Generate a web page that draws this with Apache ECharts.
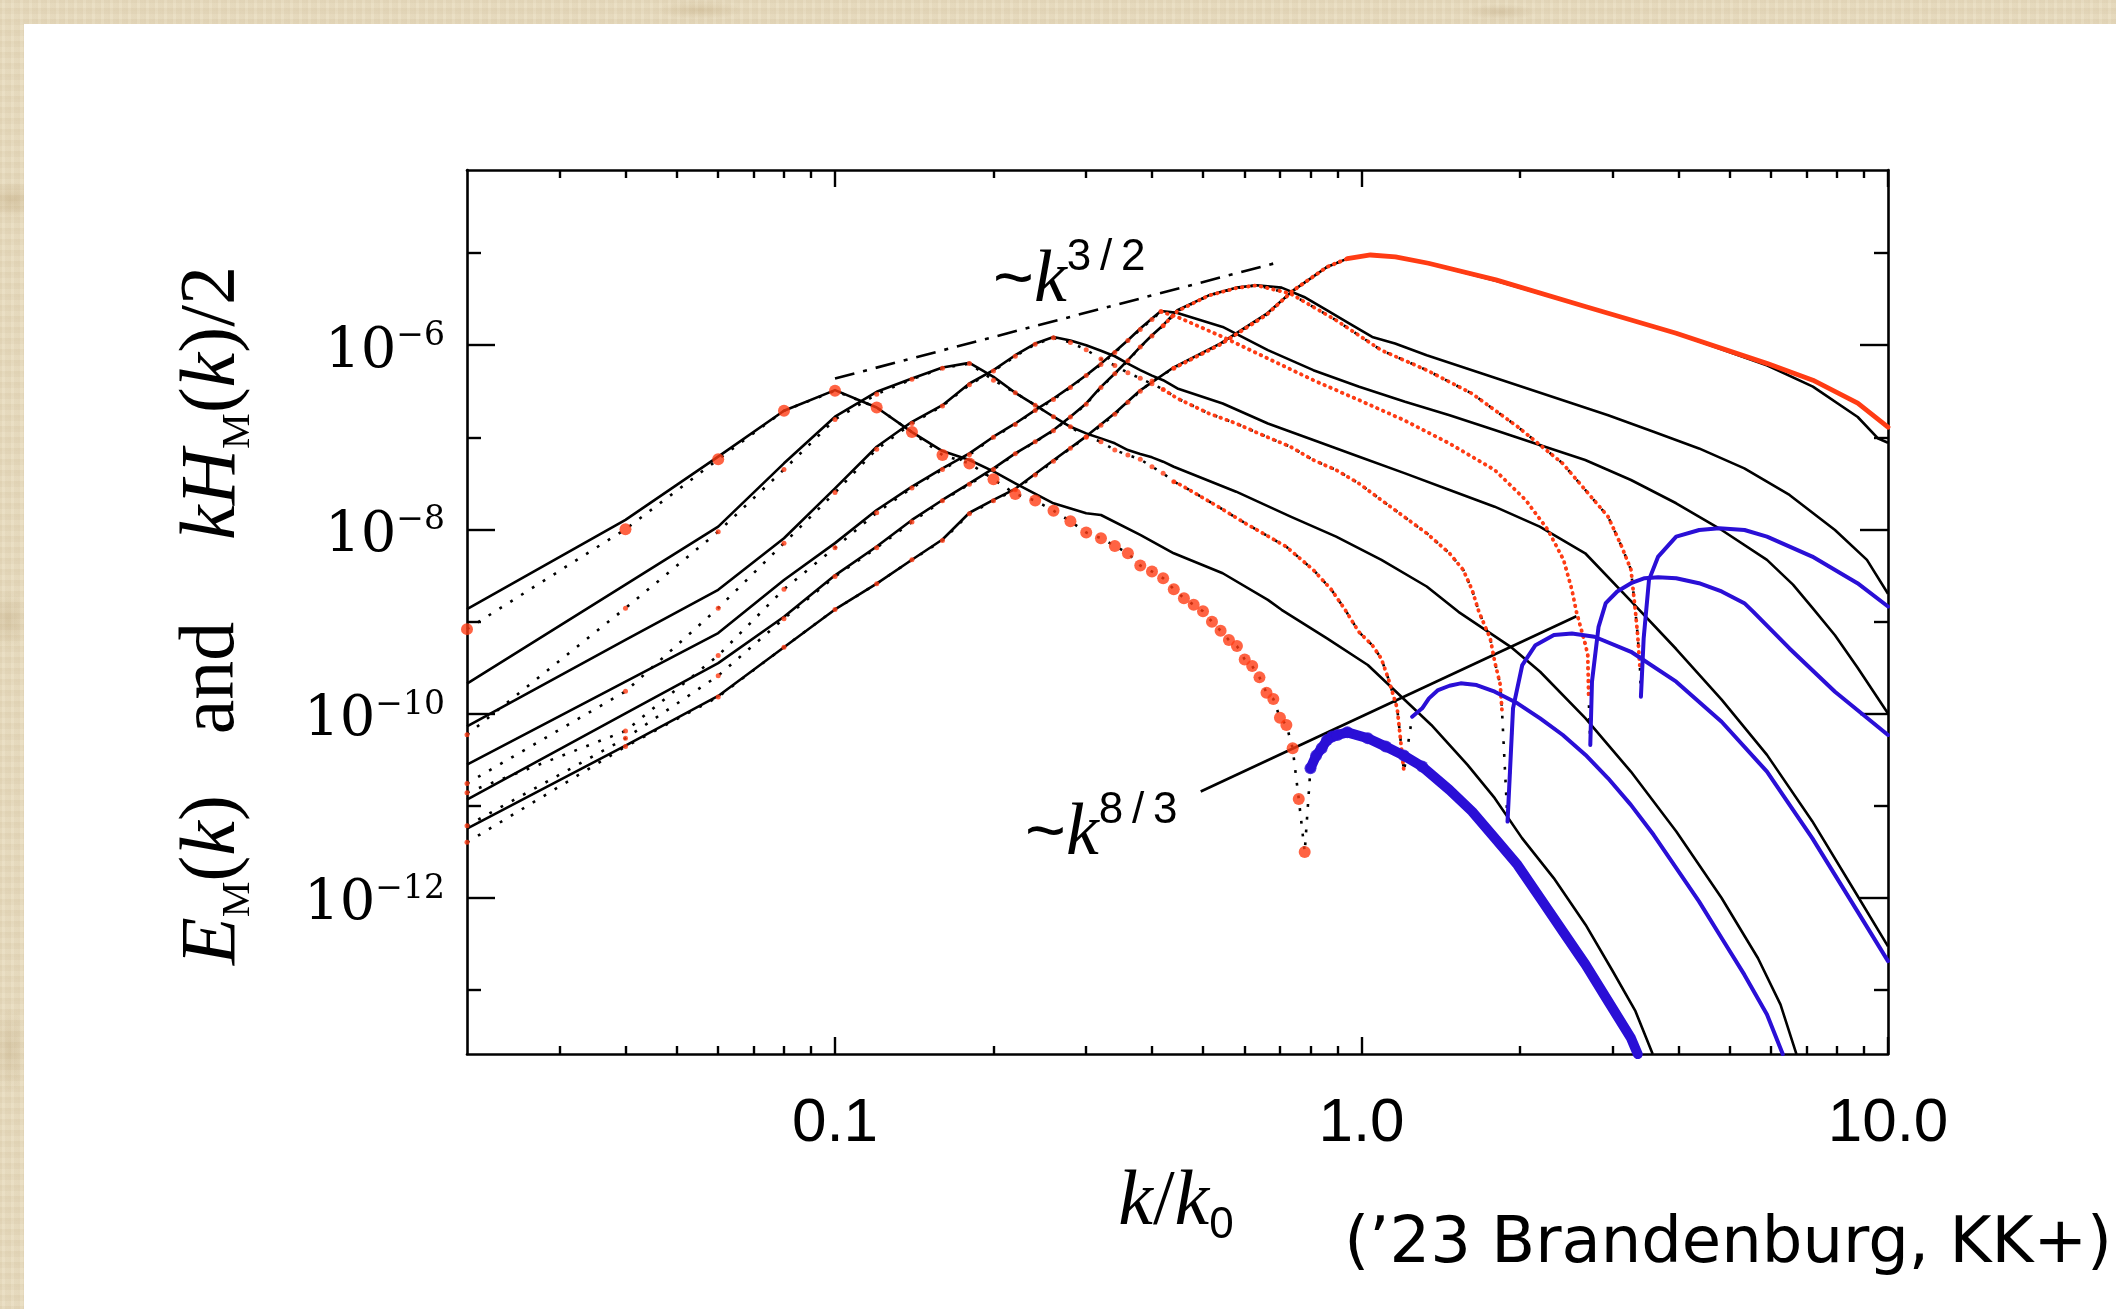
<!DOCTYPE html>
<html>
<head>
<meta charset="utf-8">
<title>Magnetic energy and helicity spectra</title>
<script src="https://cdn.jsdelivr.net/npm/echarts@6/dist/echarts.min.js"></script>
<style>
  html, body { margin: 0; padding: 0; width: 2116px; height: 1309px; overflow: hidden; }
  body {
    position: relative;
    background-color: #e8dcc0;
    background-image:
      radial-gradient(ellipse 40px 26px at 12px 200px, rgba(170,140,90,0.28), rgba(170,140,90,0) 70%),
      radial-gradient(ellipse 30px 40px at 8px 620px, rgba(160,130,80,0.22), rgba(160,130,80,0) 70%),
      radial-gradient(ellipse 24px 60px at 10px 1050px, rgba(160,130,80,0.20), rgba(160,130,80,0) 70%),
      radial-gradient(ellipse 60px 14px at 700px 10px, rgba(170,140,90,0.22), rgba(170,140,90,0) 70%),
      radial-gradient(ellipse 50px 12px at 1500px 12px, rgba(160,130,85,0.20), rgba(160,130,85,0) 70%),
      repeating-linear-gradient(90deg, rgba(150,120,70,0.05) 0 2px, rgba(255,250,235,0.05) 2px 5px, rgba(140,110,60,0.04) 5px 9px),
      repeating-linear-gradient(0deg, rgba(150,120,70,0.05) 0 3px, rgba(255,250,235,0.05) 3px 8px, rgba(130,100,60,0.03) 8px 11px);
  }
  #paper { position: absolute; left: 24px; top: 24px; right: 0; bottom: 0; background: #ffffff; }
  #chart { position: absolute; left: 0; top: 0; width: 2116px; height: 1309px; }
</style>
</head>
<body>
<div id="paper"></div>
<div id="chart"></div>
<script>
// ---- axis ticks -------------------------------------------------------
const xMajorTicks = [0.1, 1, 10];
const xTickLabels = ['0.1', '1.0', '10.0'];
const xMinorTicks = [0.03, 0.04, 0.05, 0.06, 0.07, 0.08, 0.09,
                     0.2, 0.3, 0.4, 0.5, 0.6, 0.7, 0.8, 0.9,
                     2, 3, 4, 5, 6, 7, 8, 9];
const yMajorTicks = [1e-12, 1e-10, 1e-8, 1e-6];
const yMinorTicks = [1e-13, 1e-11, 1e-9, 1e-7, 1e-5];

// ---- spectra: k/k0 and log10 of the spectral value ----------------------
// E_M(k) (solid), and kH_M(k)/2 split into positive (red) and negative (blue) parts,
// for six times of the decay (1 = initial state, 6 = latest).

const kE1 = [0.02,0.04,0.06,0.08,0.10,0.12,0.14,0.16,0.18,0.20,0.22,0.26,0.30,0.34,0.38,0.44,0.54,0.66,0.74,0.86,0.94,1.04,1.16,1.34,1.80,2.66,3.96,5.90,7.20,8.76,9.56,10.0];
const logE1 = [-11.25,-10.35,-9.81,-9.28,-8.87,-8.59,-8.33,-8.11,-7.82,-7.68,-7.56,-7.25,-6.99,-6.74,-6.49,-6.24,-5.98,-5.66,-5.41,-5.15,-5.06,-5.02,-5.04,-5.11,-5.30,-5.58,-5.87,-6.22,-6.45,-6.78,-7.01,-7.06];
const kHp1 = [0.02,0.04,0.06,0.08,0.10,0.12,0.14,0.16,0.18,0.20,0.22,0.24,0.26,0.28,0.30,0.32,0.34,0.36,0.38,0.40,0.44,0.54,0.66,0.74,0.86,0.94,1.04,1.16,1.34,1.80,2.66,3.96,5.90,7.20,8.76,10.0];
const logHp1 = [-11.40,-10.36,-9.82,-9.28,-8.87,-8.59,-8.33,-8.12,-7.83,-7.69,-7.57,-7.41,-7.26,-7.12,-7.00,-6.87,-6.75,-6.62,-6.50,-6.39,-6.25,-5.99,-5.67,-5.41,-5.15,-5.06,-5.02,-5.04,-5.11,-5.29,-5.58,-5.87,-6.20,-6.38,-6.63,-6.89];
const kHn1 = [];
const logHn1 = [];

const kE2 = [0.02,0.04,0.06,0.08,0.10,0.12,0.14,0.16,0.18,0.20,0.22,0.24,0.26,0.28,0.30,0.32,0.34,0.36,0.38,0.40,0.42,0.447,0.513,0.578,0.632,0.705,0.778,0.859,0.949,1.048,1.158,1.33,1.622,1.978,2.412,2.941,3.587,4.375,5.335,6.50,7.93,9.12,10.0];
const logE2 = [-10.935,-10.0,-9.453,-8.95,-8.50,-8.187,-7.898,-7.681,-7.50,-7.338,-7.175,-7.048,-6.922,-6.777,-6.633,-6.452,-6.307,-6.163,-6.018,-5.892,-5.783,-5.62,-5.458,-5.375,-5.349,-5.375,-5.476,-5.62,-5.765,-5.91,-5.982,-6.109,-6.271,-6.434,-6.597,-6.76,-6.94,-7.121,-7.338,-7.627,-8.007,-8.332,-8.70];
const kHp2 = [0.02,0.04,0.06,0.08,0.10,0.12,0.14,0.16,0.18,0.20,0.22,0.24,0.26,0.28,0.30,0.32,0.34,0.36,0.38,0.40,0.42,0.447,0.513,0.578,0.632,0.733,0.895,1.09,1.33,1.62,1.98,2.41,2.94,3.12,3.25,3.314,3.346,3.38];
const logHp2 = [-11.22,-10.27,-9.59,-8.97,-8.513,-8.20,-7.92,-7.69,-7.51,-7.35,-7.18,-7.05,-6.93,-6.78,-6.64,-6.46,-6.31,-6.17,-6.02,-5.90,-5.79,-5.63,-5.46,-5.38,-5.35,-5.44,-5.729,-6.054,-6.271,-6.524,-6.886,-7.284,-7.862,-8.187,-8.44,-8.896,-9.149,-9.51];
const kHn2 = [3.394,3.435,3.516,3.66,3.96,4.38,4.78,5.34,5.89,7.18,8.75,10.0];
const logHn2 = [-9.818,-9.185,-8.549,-8.296,-8.079,-8.007,-7.988,-8.007,-8.079,-8.296,-8.585,-8.838];

const kE3 = [0.02,0.04,0.06,0.08,0.10,0.12,0.14,0.16,0.18,0.20,0.22,0.24,0.26,0.28,0.30,0.32,0.34,0.36,0.38,0.40,0.416,0.447,0.545,0.664,0.81,0.99,1.21,1.47,1.79,2.18,2.66,3.25,3.96,4.83,5.89,6.60,7.18,7.93,8.75,10.0];
const logE3 = [-10.555,-9.655,-9.127,-8.55,-8.15,-7.79,-7.537,-7.338,-7.175,-6.994,-6.85,-6.705,-6.579,-6.452,-6.326,-6.20,-6.072,-5.946,-5.819,-5.711,-5.628,-5.649,-5.801,-6.054,-6.271,-6.452,-6.615,-6.76,-6.922,-7.085,-7.247,-7.464,-7.717,-8.007,-8.332,-8.60,-8.85,-9.15,-9.50,-10.0];
const kHp3 = [0.02,0.04,0.06,0.08,0.10,0.12,0.14,0.16,0.18,0.20,0.22,0.24,0.26,0.28,0.30,0.32,0.34,0.36,0.38,0.40,0.416,0.447,0.545,0.664,0.81,0.99,1.204,1.469,1.791,2.05,2.26,2.42,2.51,2.56,2.664,2.69,2.70];
const logHp3 = [-10.86,-10.19,-9.37,-8.65,-8.20,-7.82,-7.55,-7.35,-7.19,-7.00,-6.86,-6.71,-6.59,-6.46,-6.33,-6.21,-6.08,-5.95,-5.83,-5.72,-5.635,-5.693,-5.91,-6.145,-6.38,-6.597,-6.814,-7.067,-7.356,-7.681,-8.007,-8.332,-8.657,-8.896,-9.258,-9.366,-9.80];
const kHn3 = [2.72,2.74,2.82,2.91,3.06,3.25,3.45,3.66,3.96,4.375,4.83,5.335,5.55,6.5,7.93,10.0];
const logHn3 = [-10.342,-9.655,-9.059,-8.802,-8.675,-8.585,-8.531,-8.52,-8.531,-8.585,-8.675,-8.802,-8.896,-9.294,-9.764,-10.234];

const kE4 = [0.02,0.04,0.06,0.08,0.10,0.12,0.14,0.16,0.18,0.20,0.22,0.24,0.26,0.28,0.30,0.32,0.34,0.36,0.38,0.40,0.42,0.447,0.545,0.664,0.81,0.99,1.21,1.47,1.79,2.18,2.66,3.25,3.96,4.83,5.89,7.18,8.75,10.0];
const logE4 = [-10.14,-9.20,-8.657,-8.097,-7.555,-7.103,-6.832,-6.651,-6.416,-6.271,-6.109,-5.982,-5.91,-5.95,-6.0,-6.06,-6.12,-6.20,-6.27,-6.33,-6.38,-6.47,-6.633,-6.85,-7.03,-7.211,-7.392,-7.573,-7.754,-7.97,-8.26,-8.78,-9.30,-9.85,-10.45,-11.17,-11.98,-12.53];
const kHp4 = [0.02,0.04,0.06,0.08,0.10,0.12,0.14,0.16,0.18,0.20,0.22,0.24,0.26,0.28,0.30,0.32,0.34,0.36,0.38,0.40,0.42,0.447,0.513,0.578,0.638,0.733,0.81,0.895,0.988,1.09,1.204,1.33,1.469,1.56,1.622,1.671,1.756,1.791,1.835,1.849];
const logHp4 = [-10.76,-9.76,-8.856,-8.15,-7.60,-7.13,-6.85,-6.66,-6.43,-6.28,-6.12,-5.99,-5.92,-5.97,-6.05,-6.15,-6.22,-6.30,-6.36,-6.42,-6.48,-6.578,-6.741,-6.85,-6.958,-7.103,-7.247,-7.356,-7.50,-7.681,-7.862,-8.043,-8.26,-8.44,-8.657,-8.896,-9.185,-9.438,-9.691,-9.98];
const kHn4 = [1.894,1.94,2.02,2.14,2.32,2.51,2.77,3.25,3.96,4.83,5.89,7.18,8.75,10.0];
const logHn4 = [-11.174,-9.944,-9.474,-9.258,-9.149,-9.131,-9.167,-9.33,-9.655,-10.09,-10.631,-11.354,-12.15,-12.69];

const kE5 = [0.02,0.04,0.06,0.08,0.10,0.12,0.14,0.16,0.18,0.20,0.22,0.24,0.26,0.28,0.30,0.32,0.34,0.36,0.38,0.40,0.42,0.44,0.578,0.7335,0.895,1.091,1.33,1.528,1.92,2.184,2.664,3.248,3.962,4.83,5.66,6.25,6.70];
const logE5 = [-9.677,-8.60,-7.97,-7.283,-6.777,-6.506,-6.362,-6.242,-6.192,-6.344,-6.517,-6.651,-6.777,-6.886,-6.958,-7.012,-7.066,-7.139,-7.182,-7.218,-7.265,-7.32,-7.591,-7.862,-8.079,-8.332,-8.621,-8.896,-9.276,-9.547,-10.053,-10.631,-11.282,-12.005,-12.656,-13.162,-13.70];
const kHp5 = [0.02,0.04,0.06,0.08,0.10,0.12,0.14,0.16,0.18,0.20,0.22,0.24,0.26,0.28,0.30,0.32,0.34,0.36,0.38,0.40,0.42,0.44,0.454,0.534,0.6015,0.719,0.81,0.877,0.931,0.988,1.048,1.09,1.124,1.169,1.204];
const logHp5 = [-10.23,-8.856,-8.025,-7.35,-6.806,-6.532,-6.37,-6.25,-6.20,-6.38,-6.517,-6.651,-6.777,-6.886,-6.994,-7.048,-7.139,-7.193,-7.24,-7.32,-7.392,-7.482,-7.519,-7.753,-7.934,-8.187,-8.44,-8.657,-8.874,-9.113,-9.258,-9.402,-9.619,-9.944,-10.632];
const kHn5 = [1.248,1.304,1.343,1.398,1.469,1.543,1.654,1.791,1.978,2.184,2.412,2.664,2.94,3.248,3.587,3.962,4.375,4.83,5.335,5.89,6.31];
const logHn5 = [-10.035,-9.944,-9.836,-9.746,-9.699,-9.673,-9.691,-9.764,-9.89,-10.053,-10.234,-10.45,-10.704,-10.993,-11.318,-11.68,-12.041,-12.439,-12.837,-13.27,-13.70];

const kE6 = [0.02,0.04,0.06,0.08,0.10,0.12,0.14,0.16,0.18,0.20,0.22,0.26,0.30,0.32,0.38,0.44,0.545,0.664,0.705,0.86,1.028,1.181,1.357,1.59,1.791,2.018,2.318,2.664,3.001,3.314,3.573];
const logE6 = [-8.867,-7.898,-7.211,-6.712,-6.488,-6.676,-6.944,-7.15,-7.247,-7.37,-7.50,-7.717,-7.826,-7.844,-8.061,-8.26,-8.477,-8.766,-8.874,-9.185,-9.474,-9.80,-10.125,-10.559,-10.92,-11.354,-11.788,-12.294,-12.80,-13.234,-13.70];
const kHp6 = [0.02,0.04,0.06,0.08,0.10,0.12,0.14,0.16,0.18,0.20,0.22,0.24,0.26,0.28,0.30,0.32,0.34,0.36,0.38,0.40,0.42,0.44,0.46,0.48,0.50,0.52,0.54,0.56,0.58,0.60,0.62,0.64,0.66,0.68,0.70,0.72,0.74,0.76,0.78];
const logHp6 = [-9.084,-7.999,-7.24,-6.712,-6.495,-6.676,-6.944,-7.193,-7.284,-7.457,-7.616,-7.688,-7.797,-7.913,-8.035,-8.097,-8.18,-8.26,-8.393,-8.458,-8.531,-8.65,-8.748,-8.82,-8.89,-9.004,-9.102,-9.203,-9.268,-9.413,-9.485,-9.608,-9.775,-9.843,-10.046,-10.125,-10.378,-10.928,-11.506];
const kHn6 = [0.80,0.82,0.84,0.86,0.88,0.90,0.94,1.028,1.112,1.204,1.304,1.469,1.622,1.791,1.978,2.184,2.412,2.664,2.941,3.248,3.347];
const logHn6 = [-10.595,-10.458,-10.378,-10.288,-10.25,-10.234,-10.205,-10.27,-10.36,-10.458,-10.577,-10.83,-11.065,-11.354,-11.644,-12.005,-12.367,-12.728,-13.126,-13.524,-13.70];

// power-law guides
const kSlope32 = [0.1, 0.69];
const logSlope32 = [-6.362, -5.104];
const kSlope83 = [0.495, 2.56];
const logSlope83 = [-10.848, -8.944];

// ---- styling ------------------------------------------------------------
const INK = '#000000';
const RED = '#ff3c14';
const BLUE = '#2a0fd6';
const SERIF = '"Liberation Serif", "DejaVu Serif", serif';
const SANS = '"Liberation Sans", Arial, sans-serif';

const snaps = [
  { kE: kE1, lE: logE1, kP: kHp1, lP: logHp1, kN: kHn1, lN: logHn1 },
  { kE: kE2, lE: logE2, kP: kHp2, lP: logHp2, kN: kHn2, lN: logHn2 },
  { kE: kE3, lE: logE3, kP: kHp3, lP: logHp3, kN: kHn3, lN: logHn3 },
  { kE: kE4, lE: logE4, kP: kHp4, lP: logHp4, kN: kHn4, lN: logHn4 },
  { kE: kE5, lE: logE5, kP: kHp5, lP: logHp5, kN: kHn5, lN: logHn5 },
  { kE: kE6, lE: logE6, kP: kHp6, lP: logHp6, kN: kHn6, lN: logHn6 }
];
// how the helicity symbols of each time are drawn:
// separate dots up to `split`, a dotted red trail beyond, turning solid from `solidFrom`
const looks = [
  { split: 0.44, dot: 5,  dense: true,  denseWidth: 4.0, solidFrom: 0.94, solidWidth: 4.8, negWidth: 4 },
  { split: 0.44, dot: 5,  dense: true,  denseWidth: 3.8, solidFrom: null, negWidth: 4 },
  { split: 0.44, dot: 5,  dense: true,  denseWidth: 3.8, solidFrom: null, negWidth: 4 },
  { split: 0.44, dot: 5,  dense: true,  denseWidth: 3.8, solidFrom: null, negWidth: 4 },
  { split: 0.44, dot: 5,  dense: true,  denseWidth: 3.8, solidFrom: null, negWidth: 4 },
  { split: 1.00, dot: 12, dense: false, negWidth: 10, negDotsUpTo: 1.35 }
];

function pts(ks, ls) { return ks.map((k, i) => [k, Math.pow(10, ls[i])]); }

const lineBase = { type: 'line', xAxisIndex: 0, yAxisIndex: 0, symbol: 'none', showSymbol: false,
                   smooth: false, silent: true, animation: false, clip: true };
const dotBase = { type: 'scatter', xAxisIndex: 0, yAxisIndex: 0, symbol: 'circle',
                  silent: true, animation: false, clip: true };

const series = [];
series.push(Object.assign({}, lineBase, { name: 'k^3/2', data: pts(kSlope32, logSlope32), z: 2,
  lineStyle: { color: INK, width: 2.6, type: [20, 9, 4, 9] } }));
series.push(Object.assign({}, lineBase, { name: 'k^8/3', data: pts(kSlope83, logSlope83), z: 2,
  lineStyle: { color: INK, width: 2.6 } }));

snaps.forEach(s => {
  series.push(Object.assign({}, lineBase, { data: pts(s.kE, s.lE), z: 3,
    lineStyle: { color: INK, width: 2.6, join: 'round' } }));
});
snaps.forEach(s => {
  series.push(Object.assign({}, lineBase, { data: pts(s.kP.concat(s.kN), s.lP.concat(s.lN)), z: 4,
    lineStyle: { color: INK, width: 2.6, type: [2.8, 10] } }));
});
snaps.forEach((s, i) => {
  const st = looks[i];
  const pos = pts(s.kP, s.lP);
  const neg = pts(s.kN, s.lN);
  const low = pos.filter(p => p[0] <= st.split + 1e-9);
  series.push(Object.assign({}, dotBase, { data: low, symbolSize: st.dot, z: 6,
    itemStyle: { color: RED } }));
  if (st.dense) {
    const rest = pos.slice(Math.max(0, low.length - 1));
    let dotted = rest, solid = [];
    if (st.solidFrom) {
      const n = rest.filter(p => p[0] < st.solidFrom - 1e-9).length;
      dotted = rest.slice(0, n + 1);
      solid = rest.slice(n);
    }
    series.push(Object.assign({}, lineBase, { data: dotted, z: 5,
      lineStyle: { color: RED, width: st.denseWidth, cap: 'round', join: 'round', type: [0.6, 5.8] } }));
    if (solid.length) {
      series.push(Object.assign({}, lineBase, { data: solid, z: 5,
        lineStyle: { color: RED, width: st.solidWidth, cap: 'round', join: 'round' } }));
    }
  }
  if (neg.length) {
    series.push(Object.assign({}, lineBase, { data: neg, z: 5,
      lineStyle: { color: BLUE, width: st.negWidth, cap: 'round', join: 'round' } }));
    if (st.negDotsUpTo) {
      series.push(Object.assign({}, dotBase, { data: neg.filter(p => p[0] <= st.negDotsUpTo),
        symbolSize: st.dot, z: 6, itemStyle: { color: BLUE } }));
    }
  }
});

// ---- axes -----------------------------------------------------------------
const X_MIN = 0.02, X_MAX = 10, Y_MIN = 2e-14, Y_MAX = 8e-5;
const gridRect = { left: 467, top: 170, width: 1421, height: 884, containLabel: false, show: false };
function logAxis(extra) {
  return Object.assign({
    type: 'log', logBase: 10,
    splitLine: { show: false }, minorTick: { show: false }, minorSplitLine: { show: false },
    axisPointer: { show: false }, silent: true
  }, extra);
}
const frameLine = { show: true, onZero: false, lineStyle: { color: INK, width: 2.6 } };
const noLine = { show: false };
const noLabel = { show: false };
function ticks(values, len) {
  return { show: true, inside: true, length: len, customValues: values,
           lineStyle: { color: INK, width: 2.4 } };
}

const xAxis = [
  logAxis({ gridIndex: 0, min: X_MIN, max: X_MAX, position: 'bottom', axisLine: frameLine,
    axisTick: ticks(xMajorTicks, 17),
    axisLabel: { show: true, customValues: xMajorTicks, margin: 39, color: INK,
      fontFamily: SANS, fontSize: 62,
      formatter: v => {
        const i = xMajorTicks.findIndex(t => Math.abs(Math.log10(t) - Math.log10(v)) < 1e-6);
        return i >= 0 ? xTickLabels[i] : '';
      } } }),
  logAxis({ gridIndex: 0, min: X_MIN, max: X_MAX, position: 'top', axisLine: frameLine,
    axisTick: ticks(xMajorTicks, 17), axisLabel: noLabel }),
  logAxis({ gridIndex: 1, min: X_MIN, max: X_MAX, position: 'bottom', axisLine: noLine,
    axisTick: ticks(xMinorTicks, 8), axisLabel: noLabel }),
  logAxis({ gridIndex: 1, min: X_MIN, max: X_MAX, position: 'top', axisLine: noLine,
    axisTick: ticks(xMinorTicks, 8), axisLabel: noLabel })
];
const yAxis = [
  logAxis({ gridIndex: 0, min: Y_MIN, max: Y_MAX, position: 'left', axisLine: frameLine,
    axisTick: ticks(yMajorTicks, 28),
    axisLabel: { show: true, customValues: yMajorTicks, margin: 22, padding: [14, 0, 0, 0],
      formatter: v => '{b|10}{s|\u2212' + Math.round(-Math.log10(v)) + '}',
      rich: {
        b: { fontFamily: '"DejaVu Serif", serif', fontSize: 56, lineHeight: 64, color: INK },
        s: { fontFamily: '"DejaVu Serif", serif', fontSize: 33, lineHeight: 32, color: INK, verticalAlign: 'top' }
      } } }),
  logAxis({ gridIndex: 0, min: Y_MIN, max: Y_MAX, position: 'right', axisLine: frameLine,
    axisTick: ticks(yMajorTicks, 28), axisLabel: noLabel }),
  logAxis({ gridIndex: 1, min: Y_MIN, max: Y_MAX, position: 'left', axisLine: noLine,
    axisTick: ticks(yMinorTicks, 14), axisLabel: noLabel }),
  logAxis({ gridIndex: 1, min: Y_MIN, max: Y_MAX, position: 'right', axisLine: noLine,
    axisTick: ticks(yMinorTicks, 14), axisLabel: noLabel })
];

// ---- titles and annotations -------------------------------------------------
const mathRich = {
  i:   { fontFamily: SERIF, fontStyle: 'italic', fontSize: 78, lineHeight: 90, fill: INK },
  r:   { fontFamily: SERIF, fontSize: 78, lineHeight: 90, fill: INK },
  sub: { fontFamily: SERIF, fontSize: 40, lineHeight: 48, fill: INK, verticalAlign: 'bottom' },
  s0:  { fontFamily: SANS, fontSize: 44, lineHeight: 50, fill: INK, verticalAlign: 'bottom' }
};
const noteRich = {
  t: { fontFamily: SANS, fontSize: 70, lineHeight: 92, fill: INK },
  k: { fontFamily: SERIF, fontStyle: 'italic', fontSize: 74, lineHeight: 92, fill: INK },
  s: { fontFamily: SANS, fontSize: 44, lineHeight: 46, fill: INK, verticalAlign: 'top' }
};
function mathText(x, y, text, rich, rot, align) {
  return { type: 'text', x: x, y: y, rotation: rot || 0, silent: true, z: 20,
           style: { text: text, rich: rich, align: align || 'center', verticalAlign: 'middle' } };
}
const graphic = [
  mathText(213, 880, '{i|E}{sub|M}{r|(}{i|k}{r|)}', mathRich, Math.PI / 2),
  mathText(213, 678, '{r|and}', mathRich, Math.PI / 2),
  mathText(213, 403, '{i|k}{i|H}{sub|M}{r|(}{i|k}{r|)/2}', mathRich, Math.PI / 2),
  mathText(1176, 1203, '{i|k}{r|/}{i|k}{s0|0}', mathRich, 0),
  mathText(993, 282, '{t|~}{k|k}{s|3\u2009/\u20092}', noteRich, 0, 'left'),
  mathText(1025, 835, '{t|~}{k|k}{s|8\u2009/\u20093}', noteRich, 0, 'left'),
  { type: 'text', x: 2112, y: 1245, silent: true, z: 20,
    style: { text: '(\u201923 Brandenburg, KK+)', font: '64px "DejaVu Sans", sans-serif',
             fill: INK, align: 'right', verticalAlign: 'middle' } }
];

const chart = echarts.init(document.getElementById('chart'), null, { renderer: 'canvas' });
chart.setOption({
  animation: false,
  backgroundColor: 'transparent',
  textStyle: { fontFamily: SANS },
  grid: [Object.assign({}, gridRect), Object.assign({}, gridRect)],
  xAxis: xAxis,
  yAxis: yAxis,
  series: series,
  graphic: graphic
});
</script>
</body>
</html>
